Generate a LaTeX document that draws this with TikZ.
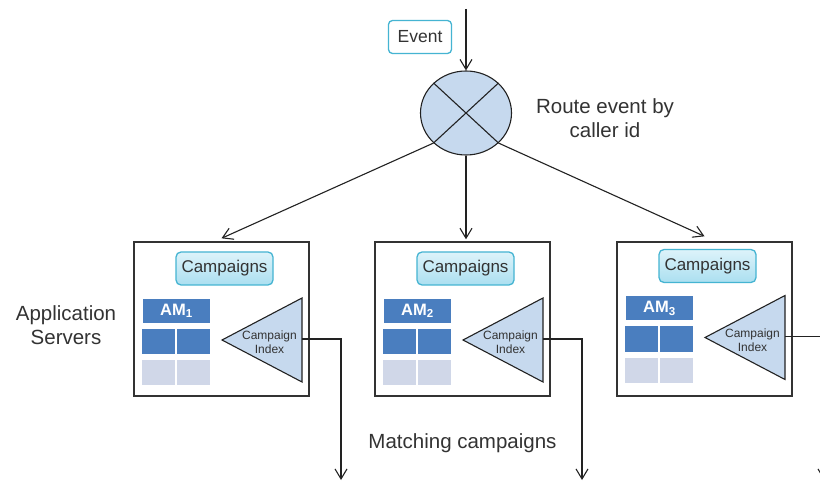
\documentclass[tikz,border=0pt]{standalone}
\usepackage{fontspec}
\setmainfont{Liberation Sans}
\usetikzlibrary{arrows.meta,shapes.geometric,calc}

\definecolor{ink}{HTML}{222222}
\definecolor{textgray}{HTML}{333333}
\definecolor{framegray}{HTML}{333333}
\definecolor{routerfill}{HTML}{C6D9EE}
\definecolor{pillborder}{HTML}{45B4D2}
\definecolor{pilltop}{HTML}{DDF3FA}
\definecolor{pillbottom}{HTML}{ABDFF0}
\definecolor{amblue}{HTML}{4A7EBF}
\definecolor{amlight}{HTML}{D0D7E8}

\tikzset{
  flow/.style={draw=ink, line width=1.1pt, -{Straight Barb[length=10pt,width=12pt,line width=1.1pt]}},
  plain/.style={draw=ink, line width=1.1pt},
  caption/.style={text=textgray, font=\fontsize{20.5}{24.5}\selectfont, align=center, inner sep=0pt},
  eventbox/.style={draw=pillborder, line width=1.3pt, fill=white, rounded corners=4pt,
    minimum width=63pt, minimum height=33pt, inner sep=0pt, text=textgray,
    font=\fontsize{17.5}{20}\selectfont},
  router/.style={ellipse, draw=ink, line width=1.1pt, fill=routerfill,
    minimum width=91pt, minimum height=84pt, inner sep=0pt},
  server/.style={draw=framegray, line width=1.4pt, fill=white,
    minimum width=175pt, minimum height=154pt, inner sep=0pt},
  pill/.style={draw=pillborder, line width=1.3pt, rounded corners=5pt,
    top color=pilltop, bottom color=pillbottom,
    minimum width=97pt, minimum height=33pt, inner sep=0pt, text=textgray,
    font=\fontsize{17}{20}\selectfont},
  amhead/.style={fill=amblue, minimum width=67pt, minimum height=24pt, inner sep=0pt,
    text=white, font=\fontsize{16.5}{18}\selectfont\bfseries},
  amcell/.style={fill=amblue, minimum width=33pt, minimum height=25pt, inner sep=0pt},
  amfree/.style={fill=amlight, minimum width=33pt, minimum height=25pt, inner sep=0pt},
  idxshape/.style={draw=ink, line width=1.1pt, fill=routerfill, line join=miter},
  idxtext/.style={text=textgray, font=\fontsize{12}{14}\selectfont, align=center, inner sep=0pt},
}

\begin{document}
\begin{tikzpicture}[x=1pt,y=-1pt]
\useasboundingbox (0,0) rectangle (820,481);
\fill[white] (0,0) rectangle (820,481);

% incoming event and the router
\node[eventbox] (event) at (420,37) {Event};
\node[router] (route) at (466,113) {};
\coordinate (feed) at (466,9);
\draw[flow] (feed) -- (route.north);
\draw[plain] (route.north west) -- (route.south east);
\draw[plain] (route.north east) -- (route.south west);
\node[caption] (routelabel) at (605,118) {Route event by\\caller id};

% application servers
\foreach \i/\x/\dy in {1/134/0, 2/375/0, 3/617/-2.5}{
  \node[server] (srv\i) at ({\x+87.5},319) {};
  \node[pill] (camp\i) at ({\x+90.5},{268.5+(\dy)}) {Campaigns};
  \node[amhead] (am\i) at ({\x+42.5},{311+(\dy)}) {AM\textsubscript{\i}};
  \node[amcell] (am\i a) at ({\x+24.5},{341.5+(\dy)}) {};
  \node[amcell] (am\i b) at ({\x+59.5},{341.5+(\dy)}) {};
  \node[amfree] (am\i c) at ({\x+24.5},{372.5+(\dy)}) {};
  \node[amfree] (am\i d) at ({\x+59.5},{372.5+(\dy)}) {};
  \draw[idxshape] ({\x+88},{340+(\dy)}) -- ({\x+168},{298+(\dy)})
                  -- ({\x+168},{382+(\dy)}) -- cycle;
  \node[idxtext] (idx\i) at ({\x+135.5},{342.5+(\dy)}) {Campaign\\Index};
  \coordinate (out\i) at ({\x+168},{339+(\dy)});
  \coordinate (sink\i) at ({\x+207},480);
  \draw[flow] (out\i) -| (sink\i);
}

% fan-out from the router to the servers
\draw[flow] (route.south west) -- ([yshift=3pt]srv1.north);
\draw[flow] (route.south) -- ($(route.south |- srv2.north)+(0,-2)$);
\draw[flow] (route.south east) -- ([yshift=5pt]srv3.north);

\node[caption] (servers) at (66,325) {Application\\Servers};
\node[caption] (matching) at (462.5,443.5) {Matching campaigns};
\end{tikzpicture}
\end{document}
